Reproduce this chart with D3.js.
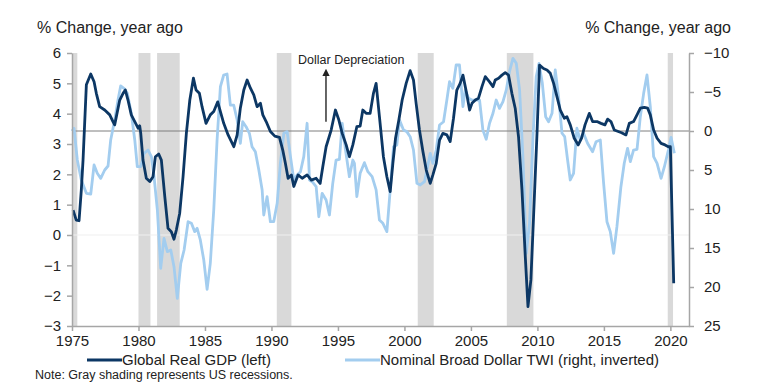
<!DOCTYPE html>
<html>
<head>
<meta charset="utf-8">
<script src="https://cdn.jsdelivr.net/npm/d3@7"></script>
<style>
  body { margin: 0; background: #fff; }
  svg { font-family: "Liberation Sans", Arial, sans-serif; }
</style>
</head>
<body>
<div id="svg-container"></div>
<script>
// recession periods (start, end) in decimal years
const recessions = [
    [1975.0, 1975.4], [1980.0, 1980.9], [1981.4, 1983.1], [1990.4, 1991.5],
    [2001.0, 2002.2], [2007.7, 2009.7], [2019.8, 2020.2]
];

// Global Real GDP, % y/y (left axis)
const gdp = [
    [1975.08,0.82],[1975.32,0.49],[1975.53,0.47],[1975.7,1.48],[1975.83,2.47],[1976.08,4.95],[1976.41,5.31],
    [1976.66,5.05],[1976.83,4.67],[1977.08,4.23],[1977.46,4.12],[1977.84,3.96],[1978.08,3.74],[1978.21,3.63],
    [1978.59,4.45],[1978.84,4.67],[1979.01,4.78],[1979.21,4.45],[1979.46,3.96],[1979.72,3.74],[1979.97,3.52],
    [1980.09,3.6],[1980.17,3.35],[1980.34,2.47],[1980.59,1.87],[1980.85,1.76],[1981.09,1.92],[1981.27,2.58],
    [1981.52,2.67],[1981.72,2.47],[1981.98,1.26],[1982.22,0.22],[1982.47,0.11],[1982.67,-0.14],[1982.85,0.17],
    [1983.1,0.72],[1983.35,1.92],[1983.6,3.35],[1983.86,4.45],[1984.13,5.17],[1984.33,4.78],[1984.58,4.67],
    [1984.78,4.23],[1985.08,3.68],[1985.4,3.96],[1985.66,4.07],[1985.96,4.39],[1986.16,4.07],[1986.41,3.68],
    [1986.74,3.3],[1987.17,2.91],[1987.42,3.3],[1987.66,4.18],[1987.92,4.78],[1988.17,5.11],[1988.42,4.84],
    [1988.67,4.62],[1988.92,4.23],[1989.17,4.34],[1989.35,3.96],[1989.6,3.74],[1989.92,3.41],[1990.25,3.26],
    [1990.6,3.22],[1990.85,2.8],[1991.05,2.36],[1991.25,1.87],[1991.5,1.98],[1991.68,1.6],[1992.0,1.98],
    [1992.31,1.87],[1992.68,1.98],[1993.0,1.81],[1993.36,1.87],[1993.66,1.7],[1993.86,2.25],[1994.11,2.91],
    [1994.49,3.46],[1994.81,4.12],[1995.07,3.79],[1995.32,3.35],[1995.62,2.97],[1995.86,2.58],[1996.12,2.97],
    [1996.42,3.57],[1996.67,3.59],[1996.87,4.12],[1997.12,4.01],[1997.42,4.01],[1997.67,4.67],[1997.87,5.0],
    [1998.12,3.9],[1998.42,2.58],[1998.68,1.92],[1998.93,1.43],[1999.13,2.36],[1999.33,3.19],[1999.58,3.79],
    [1999.83,4.45],[2000.13,5.0],[2000.43,5.42],[2000.68,5.11],[2000.88,4.34],[2001.13,3.46],[2001.39,2.75],
    [2001.64,2.14],[2001.94,1.7],[2002.14,1.98],[2002.39,2.36],[2002.64,3.13],[2002.89,3.35],[2003.19,3.3],
    [2003.44,3.08],[2003.69,3.85],[2003.94,4.78],[2004.19,5.0],[2004.4,5.27],[2004.65,4.73],[2004.9,4.12],
    [2005.08,4.34],[2005.33,4.45],[2005.57,4.51],[2005.83,4.89],[2006.08,5.22],[2006.4,5.05],[2006.66,4.89],
    [2006.83,5.11],[2007.08,5.17],[2007.33,5.27],[2007.58,5.35],[2007.83,5.27],[2008.08,4.67],[2008.33,4.18],
    [2008.58,3.24],[2008.84,1.48],[2009.09,-0.72],[2009.29,-2.36],[2009.51,-1.48],[2009.71,0.6],[2009.97,3.35],
    [2010.16,5.6],[2010.46,5.49],[2010.72,5.44],[2010.97,5.33],[2011.22,5.0],[2011.47,4.56],[2011.72,4.12],
    [2012.02,3.85],[2012.22,3.9],[2012.47,3.63],[2012.77,3.19],[2013.07,2.97],[2013.32,3.19],[2013.58,3.63],
    [2013.9,4.01],[2014.15,3.74],[2014.48,3.74],[2014.78,3.68],[2015.08,3.63],[2015.28,3.82],[2015.53,3.74],
    [2015.78,3.46],[2016.08,3.41],[2016.33,3.37],[2016.66,3.3],[2016.91,3.68],[2017.23,3.74],[2017.49,3.96],
    [2017.74,4.18],[2018.04,4.21],[2018.29,4.18],[2018.49,3.96],[2018.74,3.46],[2019.0,3.19],[2019.3,3.02],
    [2019.6,2.97],[2019.85,2.91],[2020.0,2.91],[2020.25,-1.59]
];

// Nominal Broad Dollar TWI, % y/y (right axis, inverted)
const twi = [
    [1975.0,0.0],[1975.15,-0.35],[1975.4,3.72],[1975.7,6.28],[1976.08,7.99],[1976.41,8.08],[1976.66,4.36],
    [1976.9,5.42],[1977.16,6.07],[1977.46,5.0],[1977.71,4.49],[1977.91,1.15],[1978.21,-1.41],[1978.46,-3.97],
    [1978.66,-5.77],[1978.91,-5.47],[1979.16,-4.83],[1979.46,-2.27],[1979.72,1.15],[1979.91,4.58],[1980.17,4.58],
    [1980.42,2.86],[1980.72,2.44],[1980.97,3.29],[1981.17,5.86],[1981.42,10.13],[1981.67,17.6],[1981.92,13.76],
    [1982.17,15.47],[1982.43,15.26],[1982.67,17.4],[1982.92,21.45],[1983.18,16.97],[1983.43,15.26],[1983.73,11.63],
    [1983.98,11.83],[1984.23,12.9],[1984.41,12.47],[1984.65,13.97],[1984.91,16.54],[1985.16,20.3],[1985.4,16.97],
    [1985.66,10.13],[1985.91,1.15],[1986.16,-5.68],[1986.41,-7.18],[1986.66,-7.31],[1986.91,-3.33],[1987.16,-3.33],
    [1987.42,-1.41],[1987.66,1.58],[1987.84,-1.19],[1988.09,-0.55],[1988.34,0.29],[1988.54,2.01],[1988.79,2.65],
    [1989.05,5.0],[1989.3,7.56],[1989.42,10.77],[1989.67,8.42],[1989.92,11.63],[1990.17,11.63],[1990.43,9.27],
    [1990.67,4.14],[1990.93,0.29],[1991.18,0.08],[1991.43,3.29],[1991.68,6.28],[1991.93,5.64],[1992.18,5.22],
    [1992.43,3.29],[1992.68,-0.99],[1992.86,6.28],[1993.06,6.5],[1993.36,7.14],[1993.56,10.99],[1993.81,7.99],
    [1994.11,8.85],[1994.36,10.77],[1994.61,6.71],[1994.86,3.72],[1995.11,3.63],[1995.32,-0.99],[1995.57,2.44],
    [1995.86,5.86],[1996.12,3.72],[1996.24,4.14],[1996.42,8.42],[1996.67,5.42],[1996.99,4.06],[1997.25,5.22],
    [1997.57,5.86],[1997.87,7.56],[1998.12,11.41],[1998.38,11.83],[1998.68,12.9],[1998.93,7.56],[1999.18,2.01],
    [1999.43,1.79],[1999.63,-1.41],[1999.93,-0.13],[2000.18,0.08],[2000.43,0.73],[2000.68,2.44],[2000.94,6.71],
    [2001.19,6.92],[2001.51,6.5],[2001.69,5.0],[2001.94,2.86],[2002.14,4.14],[2002.39,2.44],[2002.64,-0.77],
    [2002.94,-1.19],[2003.19,-3.97],[2003.39,-6.32],[2003.64,-5.47],[2003.89,-8.46],[2004.14,-8.46],[2004.4,-3.12],
    [2004.57,-5.26],[2004.82,-4.19],[2005.08,-3.97],[2005.4,-3.97],[2005.65,-3.97],[2005.9,-0.13],[2006.15,1.06],
    [2006.4,-0.99],[2006.66,-2.27],[2006.9,-3.97],[2007.15,-2.9],[2007.41,-3.76],[2007.66,-5.26],[2007.9,-7.6],
    [2008.16,-9.32],[2008.41,-8.68],[2008.66,-5.26],[2008.91,3.29],[2009.16,15.68],[2009.41,11.83],[2009.67,0.73],
    [2009.91,-6.96],[2010.12,-8.68],[2010.37,-6.12],[2010.62,-1.83],[2010.84,-1.19],[2011.1,-2.27],[2011.34,-7.82],
    [2011.59,-4.4],[2011.85,0.29],[2012.05,0.73],[2012.27,3.72],[2012.47,6.28],[2012.72,5.42],[2012.97,-0.35],
    [2013.22,1.15],[2013.47,0.29],[2013.77,1.58],[2014.15,2.65],[2014.41,1.37],[2014.73,1.15],[2014.98,6.71],
    [2015.23,11.63],[2015.48,12.9],[2015.73,15.68],[2015.98,12.26],[2016.28,7.14],[2016.53,4.14],[2016.78,2.22],
    [2016.99,3.93],[2017.23,2.44],[2017.49,2.35],[2017.74,-1.83],[2017.99,-4.83],[2018.24,-7.18],[2018.49,-3.12],
    [2018.74,3.29],[2019.0,4.14],[2019.3,6.07],[2019.55,4.58],[2019.85,2.44],[2020.05,0.81],[2020.3,2.86]
];

const xTicks = [1975, 1980, 1985, 1990, 1995, 2000, 2005, 2010, 2015, 2020];
const leftTicks = [-3, -2, -1, 0, 1, 2, 3, 4, 5, 6];
const rightTicks = [-10, -5, 0, 5, 10, 15, 20, 25];

const svgWidth = 768;
const svgHeight = 384;
const margin = { left: 72, right: 79, top: 53, bottom: 58 };
const width = svgWidth - margin.left - margin.right;
const height = svgHeight - margin.top - margin.bottom;

const darkBlue = '#0c3764';
const lightBlue = '#a3cdef';
const axisGray = '#a6a6a6';
const textColor = '#222';

const svg = d3.select('#svg-container')
.append('svg')
.attr('width', svgWidth)
.attr('height', svgHeight);

const g = svg.append('g')
.attr('transform', `translate(${margin.left}, ${margin.top})`);

const x = d3.scaleLinear().domain([1975, 2021.4]).range([0, width]);
const yLeft = d3.scaleLinear().domain([-3, 6]).range([height, 0]);
// inverted: -10 at top, 25 at bottom
const yRight = d3.scaleLinear().domain([-10, 25]).range([0, height]);

// recession shading
g.append('g')
.selectAll('rect')
.data(recessions)
.enter()
.append('rect')
.attr('x', (d) => x(d[0]))
.attr('width', (d) => x(d[1]) - x(d[0]))
.attr('y', 0)
.attr('height', height)
.attr('fill', '#d9d9d9');

// faint zero line for left axis
g.append('line')
.attr('x1', 0).attr('x2', width)
.attr('y1', yLeft(0)).attr('y2', yLeft(0))
.attr('stroke', '#efefef')
.attr('stroke-width', 1);

// zero line for right axis
g.append('line')
.attr('x1', 0).attr('x2', width)
.attr('y1', yRight(0)).attr('y2', yRight(0))
.attr('stroke', '#7f7f7f')
.attr('stroke-width', 1);

const lineLeft = d3.line().x((d) => x(d[0])).y((d) => yLeft(d[1]));
const lineRight = d3.line().x((d) => x(d[0])).y((d) => yRight(d[1]));

g.append('path')
.datum(twi)
.attr('d', lineRight)
.attr('fill', 'none')
.attr('stroke', lightBlue)
.attr('stroke-width', 2.8)
.attr('stroke-linejoin', 'round');

g.append('path')
.datum(gdp)
.attr('d', lineLeft)
.attr('fill', 'none')
.attr('stroke', darkBlue)
.attr('stroke-width', 2.8)
.attr('stroke-linejoin', 'round');

// axes
const styleAxis = (sel) => {
    sel.select('.domain').attr('stroke', axisGray).attr('stroke-width', 1.5);
    sel.selectAll('.tick line').attr('stroke', axisGray).attr('stroke-width', 1.5);
    sel.selectAll('.tick text')
    .attr('fill', textColor)
    .style('font-size', '15px')
    .style('font-family', '"Liberation Sans", Arial, sans-serif');
};

g.append('g')
.attr('transform', `translate(0, ${height})`)
.call(d3.axisBottom(x).tickValues(xTicks).tickFormat(d3.format('d')).tickSizeInner(5).tickSizeOuter(0).tickPadding(4))
.call(styleAxis);

g.append('g')
.call(d3.axisLeft(yLeft).tickValues(leftTicks).tickSizeInner(5).tickSizeOuter(0).tickPadding(6))
.call(styleAxis);

g.append('g')
.attr('transform', `translate(${width}, 0)`)
.call(d3.axisRight(yRight).tickValues(rightTicks).tickSizeInner(5).tickSizeOuter(0).tickPadding(10))
.call(styleAxis);

// axis titles
svg.append('text')
.attr('x', 37).attr('y', 33)
.attr('fill', textColor)
.style('font-size', '16px')
.text('% Change, year ago');

svg.append('text')
.attr('x', 731).attr('y', 33)
.attr('text-anchor', 'end')
.attr('fill', textColor)
.style('font-size', '16px')
.text('% Change, year ago');

// dollar depreciation annotation
const arrowX = x(1994.1);
svg.append('defs').append('marker')
.attr('id', 'arrowhead')
.attr('viewBox', '0 0 10 10')
.attr('refX', 5).attr('refY', 5)
.attr('markerWidth', 5).attr('markerHeight', 5)
.attr('orient', 'auto')
.append('path')
.attr('d', 'M0,0 L10,5 L0,10 z')
.attr('fill', '#222');

g.append('line')
.attr('x1', arrowX).attr('x2', arrowX)
.attr('y1', yRight(-1.2)).attr('y2', yRight(-7.5))
.attr('stroke', '#333')
.attr('stroke-width', 1.5)
.attr('marker-end', 'url(#arrowhead)');

g.append('text')
.attr('x', x(1992.0))
.attr('y', yLeft(5.64))
.attr('fill', textColor)
.style('font-size', '12.5px')
.text('Dollar Depreciation');

// legend
const legend = svg.append('g');
const legendItems = [
    { label: 'Global Real GDP (left)', color: darkBlue, x: 87 },
    { label: 'Nominal Broad Dollar TWI (right, inverted)', color: lightBlue, x: 345 }
];
legendItems.forEach((item) => {
    legend.append('line')
    .attr('x1', item.x).attr('x2', item.x + 35)
    .attr('y1', 360).attr('y2', 360)
    .attr('stroke', item.color)
    .attr('stroke-width', 3);
    legend.append('text')
    .attr('x', item.x + 35).attr('y', 365)
    .attr('fill', textColor)
    .style('font-size', '15px')
    .text(item.label);
});

svg.append('text')
.attr('x', 35).attr('y', 379)
.attr('fill', textColor)
.style('font-size', '12.5px')
.text('Note: Gray shading represents US recessions.');
</script>
</body>
</html>
